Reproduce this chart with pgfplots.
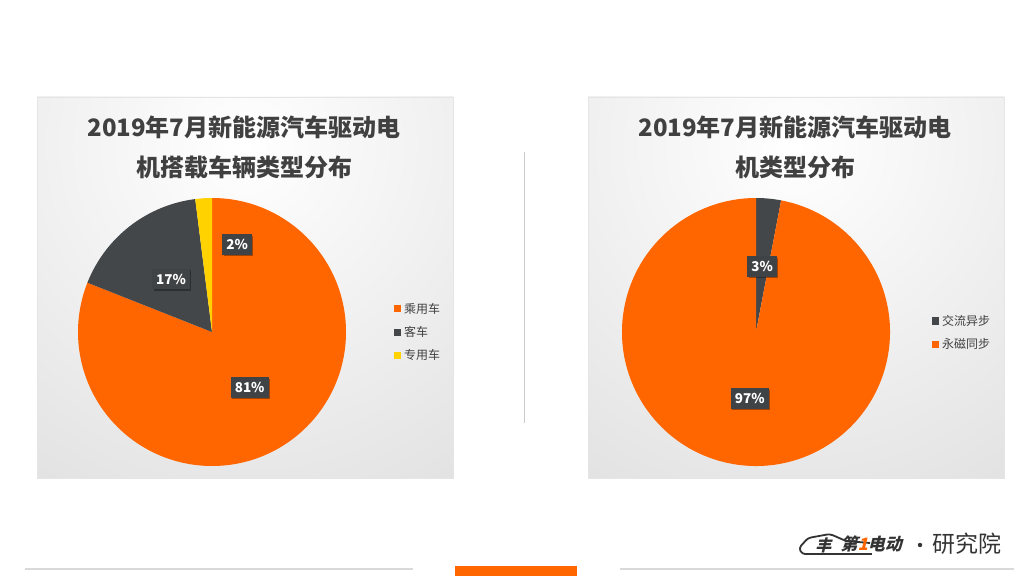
\documentclass[border=0pt]{standalone}
\usepackage{pgfplots}
\pgfplotsset{compat=1.18}
\usepackage{pgfplotstable}
\usetikzlibrary{shadows}
\usepackage{fontspec}
\setmainfont{Noto Sans CJK SC}
\definecolor{cOr}{HTML}{FF6600}
\definecolor{cDk}{HTML}{44474A}
\definecolor{cYe}{HTML}{FFD200}
\definecolor{cTitle}{HTML}{404040}
\definecolor{cLbl}{HTML}{404346}
\definecolor{cLine}{HTML}{D9D9D9}
\definecolor{cEdge}{HTML}{C2C2C2}
\pgfplotstableread{
share
81
17
2
}\dataL
\pgfplotstableread{
share
3
97
}\dataR
\begin{document}
\begin{tikzpicture}[x=1pt,y=1pt,
  lbl/.style={fill=cLbl,text=white,font=\bfseries\fontsize{13.5}{13.5}\selectfont,inner xsep=4pt,inner ysep=5pt,
    drop shadow={shadow xshift=1.5pt,shadow yshift=-1.5pt,opacity=0.35,fill=black}},
  leg/.style={anchor=west,font=\fontsize{12}{12}\selectfont,text=cTitle,inner sep=0pt},
  ttl/.style={font=\bfseries\fontsize{24}{24}\selectfont,text=cTitle}]
% values
\pgfplotstablegetelem{0}{share}\of\dataL \edef\La{\pgfplotsretval}
\pgfplotstablegetelem{1}{share}\of\dataL \edef\Lb{\pgfplotsretval}
\pgfplotstablegetelem{2}{share}\of\dataL \edef\Lc{\pgfplotsretval}
\pgfplotstablegetelem{0}{share}\of\dataR \edef\Ra{\pgfplotsretval}
\pgfplotstablegetelem{1}{share}\of\dataR \edef\Rb{\pgfplotsretval}
\pgfmathsetmacro{\LaE}{90-3.6*\La}
\pgfmathsetmacro{\LbE}{\LaE-3.6*\Lb}
\pgfmathsetmacro{\LcE}{\LbE-3.6*\Lc}
\pgfmathsetmacro{\LaM}{(90+\LaE)/2}
\pgfmathsetmacro{\LbM}{(\LaE+\LbE)/2}
\pgfmathsetmacro{\RaE}{90-3.6*\Ra}
\pgfmathsetmacro{\RbE}{\RaE-3.6*\Rb}
\pgfmathsetmacro{\RaM}{(90+\RaE)/2}
\pgfmathsetmacro{\RbM}{(\RaE+\RbE)/2}
% canvas
\fill[white] (0,0) rectangle (1024,576);
% panels
\begin{scope}
\clip (37,98) rectangle (453,479);
\shade[inner color=white,outer color=cEdge] (245,430) circle (840);
\end{scope}
\draw[black!10] (37,98) rectangle (453,479);
\begin{scope}
\clip (588,98) rectangle (1004,479);
\shade[inner color=white,outer color=cEdge] (796,430) circle (840);
\end{scope}
\draw[black!10] (588,98) rectangle (1004,479);
% divider
\draw[black!20,line width=1pt] (524,153) -- (524,424);
% titles
\node[ttl] at (244,449) {2019年7月新能源汽车驱动电};
\node[ttl] at (244,409) {机搭载车辆类型分布};
\node[ttl] at (795,449) {2019年7月新能源汽车驱动电};
\node[ttl] at (795,409) {机类型分布};
% left pie
\begin{axis}[at={(212pt,244pt)},anchor=center,hide axis,scale only axis,
  x=134pt,y=134pt,xmin=-1,xmax=1,ymin=-1,ymax=1,clip=false]
\fill[cOr] (axis cs:0,0) -- (axis cs:0,1) arc[start angle=90,end angle=\LaE,radius=134pt] -- cycle;
\fill[cDk] (axis cs:0,0) -- (axis cs:{cos(\LaE)},{sin(\LaE)}) arc[start angle=\LaE,end angle=\LbE,radius=134pt] -- cycle;
\fill[cYe] (axis cs:0,0) -- (axis cs:{cos(\LbE)},{sin(\LbE)}) arc[start angle=\LbE,end angle=\LcE,radius=134pt] -- cycle;
\node[lbl] at (axis cs:{0.5*cos(\LaM)},{0.5*sin(\LaM)}) {\La\%};
\node[lbl] at (axis cs:{0.5*cos(\LbM)},{0.5*sin(\LbM)}) {\Lb\%};
\node[lbl] at (axis cs:{0.68*cos(74)},{0.68*sin(74)}) {\Lc\%};
\end{axis}
% right pie
\begin{axis}[at={(756pt,244pt)},anchor=center,hide axis,scale only axis,
  x=134pt,y=134pt,xmin=-1,xmax=1,ymin=-1,ymax=1,clip=false]
\fill[cDk] (axis cs:0,0) -- (axis cs:0,1) arc[start angle=90,end angle=\RaE,radius=134pt] -- cycle;
\fill[cOr] (axis cs:0,0) -- (axis cs:{cos(\RaE)},{sin(\RaE)}) arc[start angle=\RaE,end angle=\RbE,radius=134pt] -- cycle;
\node[lbl] at (axis cs:{0.49*cos(\RaM)},{0.49*sin(\RaM)}) {\Ra\%};
\node[lbl] at (axis cs:{0.5*cos(\RbM)},{0.5*sin(\RbM)}) {\Rb\%};
\end{axis}
% legends
\fill[cOr] (393.5,263.5) rectangle (400.5,270.5); \node[leg] at (404,267) {乘用车};
\fill[cDk] (393.5,240.5) rectangle (400.5,247.5); \node[leg] at (404,244) {客车};
\fill[cYe] (393.5,217.5) rectangle (400.5,224.5); \node[leg] at (404,221) {专用车};
\fill[cDk] (931.5,251.5) rectangle (938.5,258.5); \node[leg] at (942,255) {交流异步};
\fill[cOr] (931.5,228.5) rectangle (938.5,235.5); \node[leg] at (942,232) {永磁同步};
% bottom
\draw[cLine,line width=2.5pt] (25,7) -- (413,7);
\draw[cLine,line width=2.5pt] (620,7) -- (1014,7);
\fill[cOr] (455,0) rectangle (577,10);
% logo
\draw[black!80,line width=1.8pt,rounded corners=3pt] (812,22) -- (802,22) -- (799,28) -- (808,38) -- (830,42) -- (846,35) -- (870,33);
\draw[black!80,line width=1.8pt] (812,22) -- (872,22);
\node[font=\bfseries\fontsize{16}{16}\selectfont,text=black!80,xslant=0.25] at (825,31) {丰};
\node[font=\bfseries\fontsize{17}{17}\selectfont,text=black!80,xslant=0.25,inner sep=0pt,anchor=west] at (842,32) {第\textcolor{cOr}{1}电动};
\fill[black!80] (920,31) circle (2.2pt);
\node[font=\fontsize{23}{23}\selectfont,text=black!80,anchor=west,inner sep=0pt] at (932,32) {研究院};
\end{tikzpicture}
\end{document}
